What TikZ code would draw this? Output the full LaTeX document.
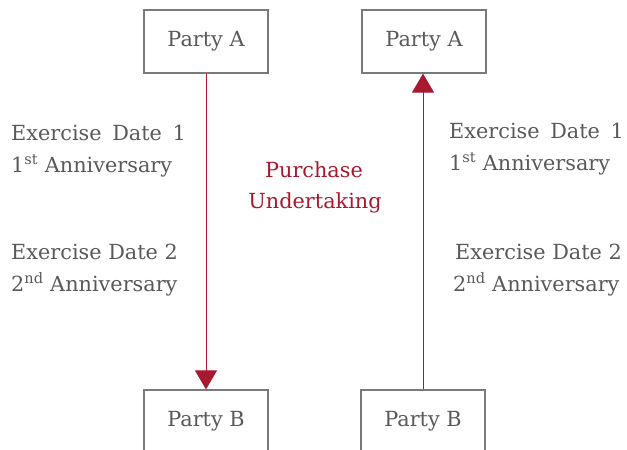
\documentclass[tikz,border=0pt]{standalone}
\usepackage{fontspec}
\setmainfont{DejaVu Serif}
\usetikzlibrary{arrows.meta}
\definecolor{txtgray}{HTML}{58595B}
\definecolor{boxgray}{HTML}{7A7A7C}
\definecolor{pured}{HTML}{A6192E}
\tikzset{
  party/.style={draw=boxgray, line width=1.2pt, minimum width=124pt, minimum height=63pt,
    inner sep=0pt, text=txtgray, font=\fontsize{20.8}{25}\selectfont},
  lbl/.style={inner sep=0pt, text=txtgray, font=\fontsize{20.8}{25}\selectfont},
  redlbl/.style={inner sep=0pt, text=pured, font=\fontsize{20.8}{25}\selectfont},
  arr/.style={draw=pured, line width=1pt, -{Triangle[width=22pt,length=19pt]}, fill=pured}
}
\begin{document}
\begin{tikzpicture}[x=1pt,y=-1pt]
\useasboundingbox (0,0) rectangle (627,450);
% boxes
\node[party] (a1) at (206,41.5) {Party A};
\node[party] (a2) at (424,41.5) {Party A};
\node[party] (b1) at (206,421.5) {Party B};
\node[party] (b2) at (423,421.5) {Party B};
% arrows
\draw[arr] (a1.south) -- (b1.north);
\draw[arr] (b2.north) -- (b2.north |- a2.south);
% left labels
\node[lbl, anchor=base west] (l1) at (11,140) {Exercise\hspace{4pt} Date\hspace{4pt} 1};
\node[lbl, anchor=base west] (l2) at (11,172) {1\textsuperscript{st} Anniversary};
\node[lbl, anchor=base west] (l3) at (11,259) {Exercise Date 2};
\node[lbl, anchor=base west] (l4) at (11,291) {2\textsuperscript{nd} Anniversary};
% right labels
\node[lbl, anchor=base west] (r1) at (449,138) {Exercise\hspace{4pt} Date\hspace{4pt} 1};
\node[lbl, anchor=base west] (r2) at (449,170) {1\textsuperscript{st} Anniversary};
\node[lbl, anchor=base west] (r3) at (455,259) {Exercise Date 2};
\node[lbl, anchor=base west] (r4) at (453,291) {2\textsuperscript{nd} Anniversary};
% centre
\node[redlbl, anchor=base] (p1) at (314,177) {Purchase};
\node[redlbl, anchor=base] (p2) at (315,208) {Undertaking};
\end{tikzpicture}
\end{document}
